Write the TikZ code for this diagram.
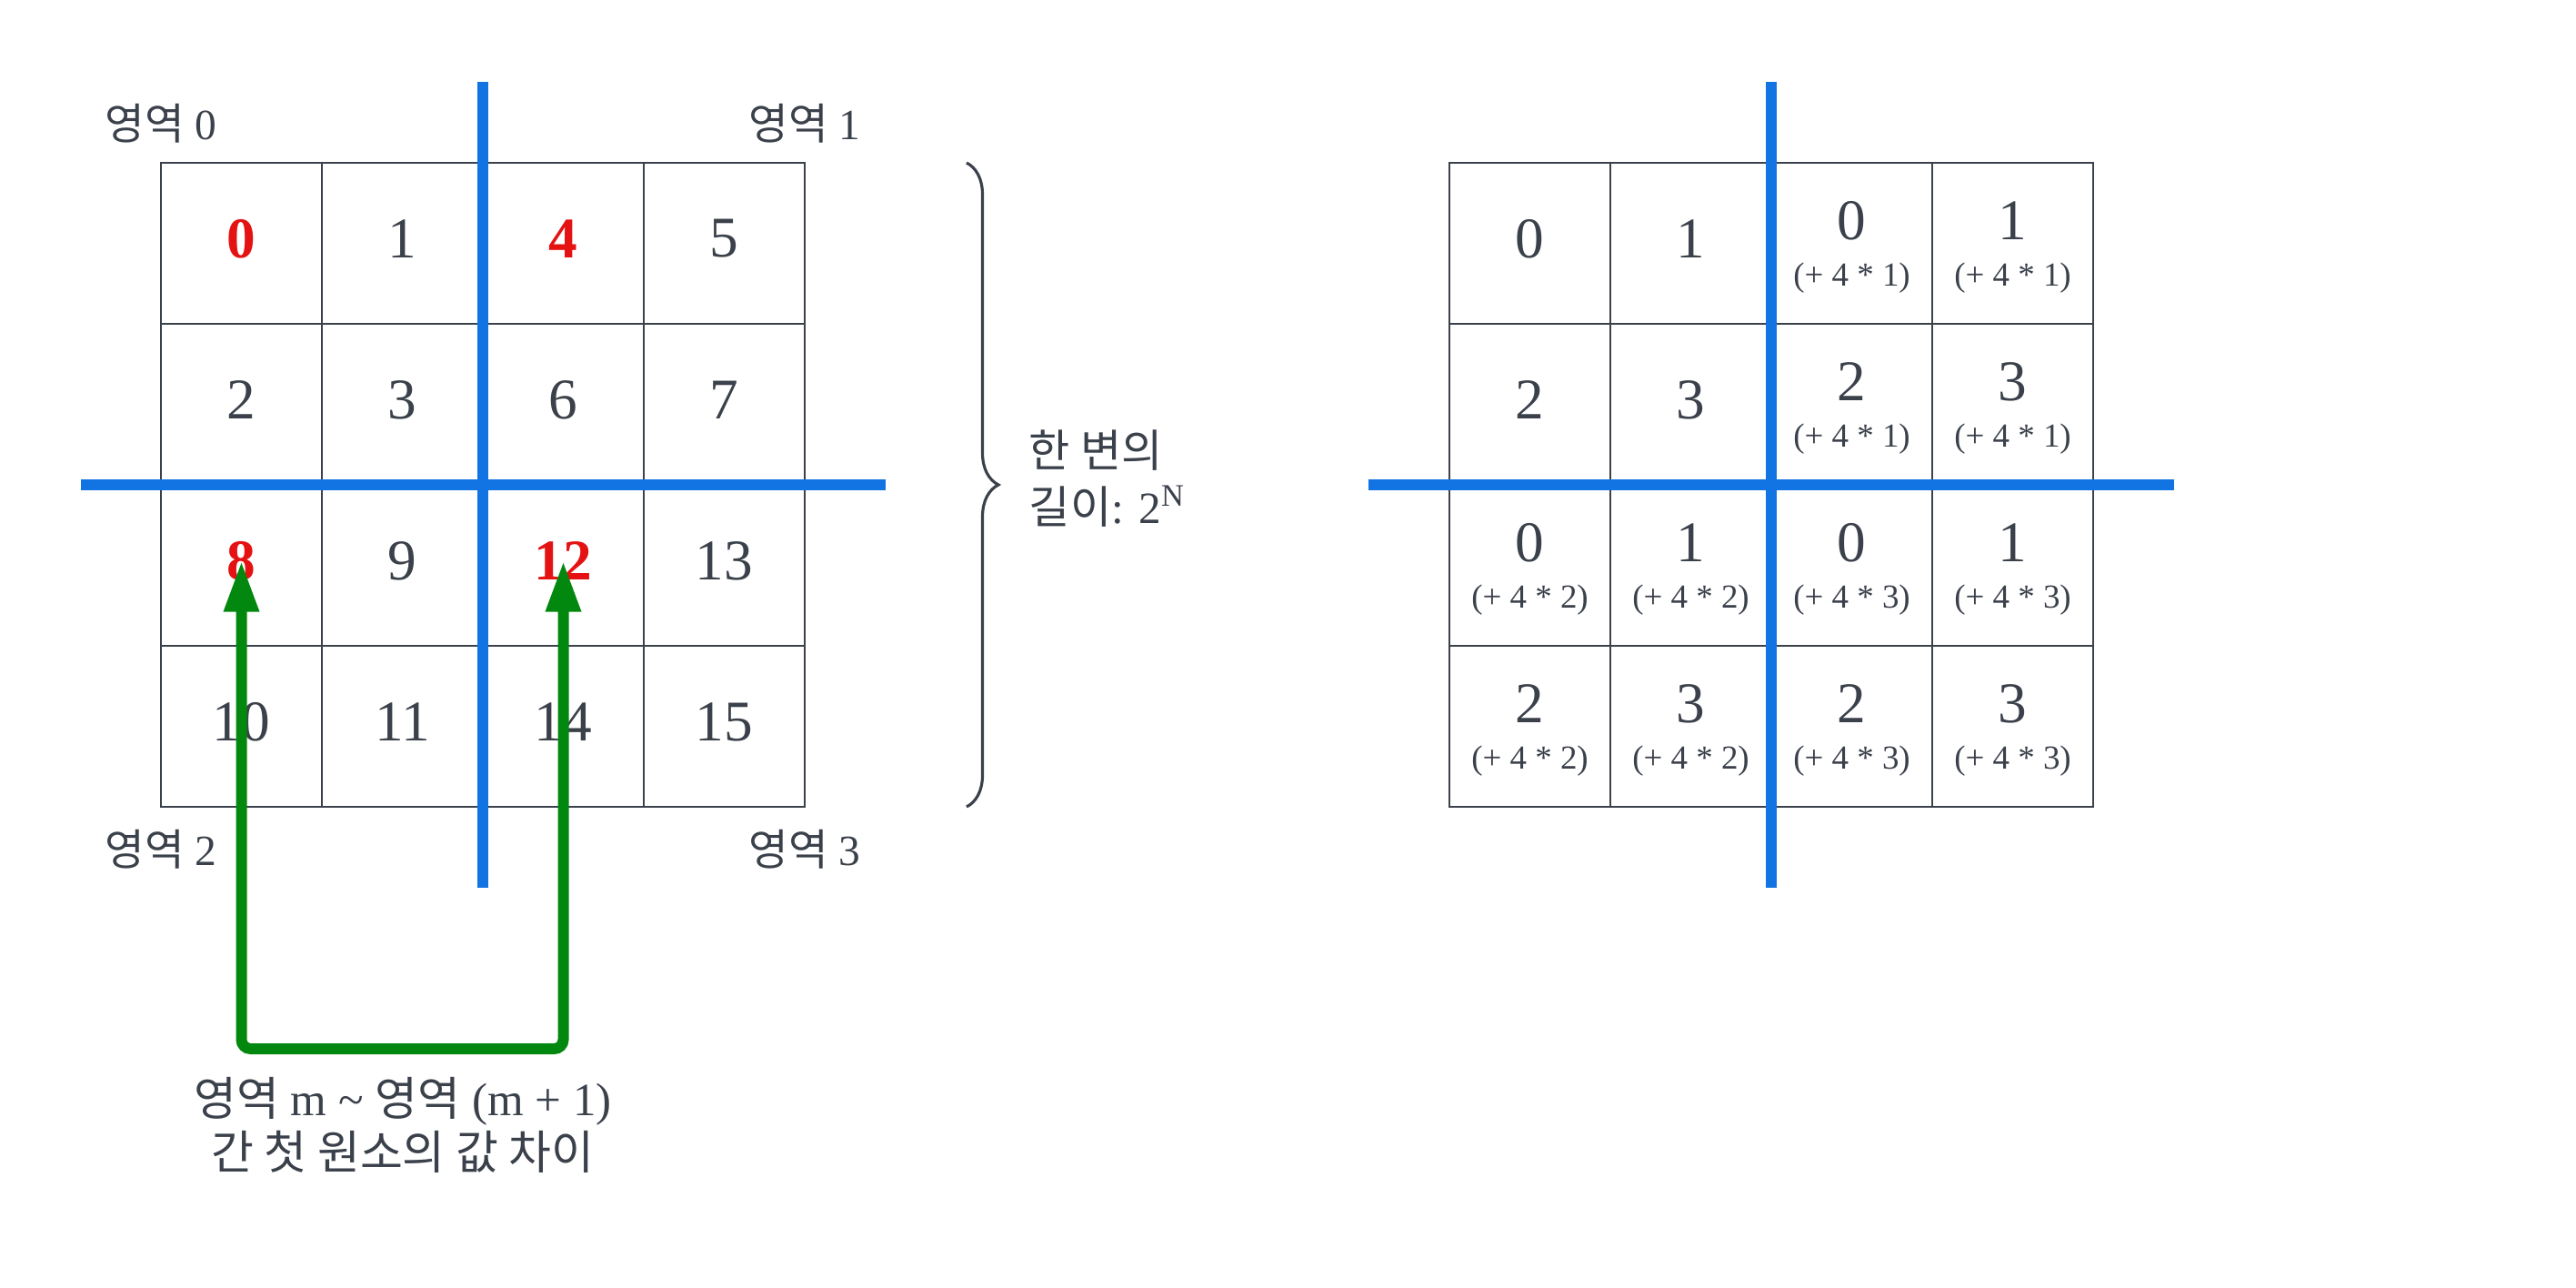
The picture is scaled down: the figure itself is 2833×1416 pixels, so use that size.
\documentclass[tikz,border=0pt]{standalone}
\usepackage{fontspec}
\setmainfont{Liberation Serif}
\newfontfamily\kr{Noto Sans CJK KR}
\usetikzlibrary{arrows.meta,decorations.pathreplacing}

\definecolor{inkgray}{RGB}{59,65,75}
\definecolor{splitblue}{RGB}{18,115,227}
\definecolor{hotred}{RGB}{228,18,18}
\definecolor{jumpgreen}{RGB}{3,136,15}

\tikzset{
  gridline/.style={draw=inkgray, line width=0.7pt},
  splitline/.style={draw=splitblue, line width=0.125cm},
  num/.style={text=inkgray, inner sep=0pt, font=\fontsize{18}{21}\selectfont},
  hotnum/.style={num, text=hotred, font=\fontsize{18}{21}\selectfont\bfseries},
  offs/.style={text=inkgray, inner sep=0pt, font=\fontsize{10.5}{12}\selectfont},
  area/.style={text=inkgray, inner sep=0pt, font=\fontsize{13.5}{17}\selectfont},
  note/.style={text=inkgray, inner sep=0pt, font=\fontsize{14.5}{17}\selectfont},
  jump/.style={draw=jumpgreen, line width=0.12cm, rounded corners=0.1cm,
    {Triangle[length=0.56cm,width=0.36cm]}-{Triangle[length=0.56cm,width=0.36cm]}},
}

\begin{document}
\begin{tikzpicture}[x=0.01cm, y=-0.01cm]
\useasboundingbox (0,0) rectangle (2833,1416);

% left grid
\draw[gridline] (177,179) rectangle (885,887);
\draw[gridline] (354,179) -- (354,887);
\draw[gridline] (531,179) -- (531,887);
\draw[gridline] (708,179) -- (708,887);
\draw[gridline] (177,356) -- (885,356);
\draw[gridline] (177,533) -- (885,533);
\draw[gridline] (177,710) -- (885,710);

\node[hotnum] (l0) at (265.5,262.5) {0};
\node[num] (l1) at (442.5,262.5) {1};
\node[hotnum] (l4) at (619.5,262.5) {4};
\node[num] (l5) at (796.5,262.5) {5};
\node[num] (l2) at (265.5,439.5) {2};
\node[num] (l3) at (442.5,439.5) {3};
\node[num] (l6) at (619.5,439.5) {6};
\node[num] (l7) at (796.5,439.5) {7};
\node[hotnum] (l8) at (265.5,616.5) {8};
\node[num] (l9) at (442.5,616.5) {9};
\node[hotnum] (l12) at (619.5,616.5) {12};
\node[num] (l13) at (796.5,616.5) {13};
\node[num] (l10) at (265.5,793.5) {10};
\node[num] (l11) at (442.5,793.5) {11};
\node[num] (l14) at (619.5,793.5) {14};
\node[num] (l15) at (796.5,793.5) {15};

\node[area] (area0) at (177,136) {{\kr 영역} 0};
\node[area] (area1) at (885,136) {{\kr 영역} 1};
\node[area] (area2) at (177,934) {{\kr 영역} 2};
\node[area] (area3) at (885,934) {{\kr 영역} 3};

\draw[splitline] (531,90) -- (531,976);
\draw[splitline] (89,533) -- (974,533);

% side length brace
\draw[inkgray, line width=0.9pt, decorate, decoration={brace, amplitude=0.35cm}] (1063,179) -- (1063,887);
\node[area, anchor=west, align=left, font=\fontsize{14}{17.5}\selectfont] (sidelen) at (1131,526) {{\kr 한 변의}\\{\kr 길이}: 2\textsuperscript{N}};

% jump between first elements
\coordinate (jumpbase) at (443,1153);
\draw[jump] (l8.center) |- (jumpbase) -| (l12.center);
\node[note, align=center] (jumpnote) at (443,1237) {{\kr 영역} m \textasciitilde{} {\kr 영역} (m + 1)\\{\kr 간 첫 원소의 값 차이}};

% right grid
\draw[gridline] (1594,179) rectangle (2302,887);
\draw[gridline] (1771,179) -- (1771,887);
\draw[gridline] (1948,179) -- (1948,887);
\draw[gridline] (2125,179) -- (2125,887);
\draw[gridline] (1594,356) -- (2302,356);
\draw[gridline] (1594,533) -- (2302,533);
\draw[gridline] (1594,710) -- (2302,710);

\node[num] (r0) at (1682.5,262.5) {0};
\node[num] (r1) at (1859.5,262.5) {1};
\node[num] (r2) at (1682.5,439.5) {2};
\node[num] (r3) at (1859.5,439.5) {3};

\node[num] (r4) at (2036.5,242.5) {0};
\node[offs] (r4o) at (2036.5,305.5) {(+ 4 * 1)};
\node[num] (r5) at (2213.5,242.5) {1};
\node[offs] (r5o) at (2213.5,305.5) {(+ 4 * 1)};
\node[num] (r6) at (2036.5,419.5) {2};
\node[offs] (r6o) at (2036.5,482.5) {(+ 4 * 1)};
\node[num] (r7) at (2213.5,419.5) {3};
\node[offs] (r7o) at (2213.5,482.5) {(+ 4 * 1)};

\node[num] (r8) at (1682.5,596.5) {0};
\node[offs] (r8o) at (1682.5,659.5) {(+ 4 * 2)};
\node[num] (r9) at (1859.5,596.5) {1};
\node[offs] (r9o) at (1859.5,659.5) {(+ 4 * 2)};
\node[num] (r10) at (1682.5,773.5) {2};
\node[offs] (r10o) at (1682.5,836.5) {(+ 4 * 2)};
\node[num] (r11) at (1859.5,773.5) {3};
\node[offs] (r11o) at (1859.5,836.5) {(+ 4 * 2)};

\node[num] (r12) at (2036.5,596.5) {0};
\node[offs] (r12o) at (2036.5,659.5) {(+ 4 * 3)};
\node[num] (r13) at (2213.5,596.5) {1};
\node[offs] (r13o) at (2213.5,659.5) {(+ 4 * 3)};
\node[num] (r14) at (2036.5,773.5) {2};
\node[offs] (r14o) at (2036.5,836.5) {(+ 4 * 3)};
\node[num] (r15) at (2213.5,773.5) {3};
\node[offs] (r15o) at (2213.5,836.5) {(+ 4 * 3)};

\draw[splitline] (1948,90) -- (1948,976);
\draw[splitline] (1505,533) -- (2391,533);
\end{tikzpicture}
\end{document}
